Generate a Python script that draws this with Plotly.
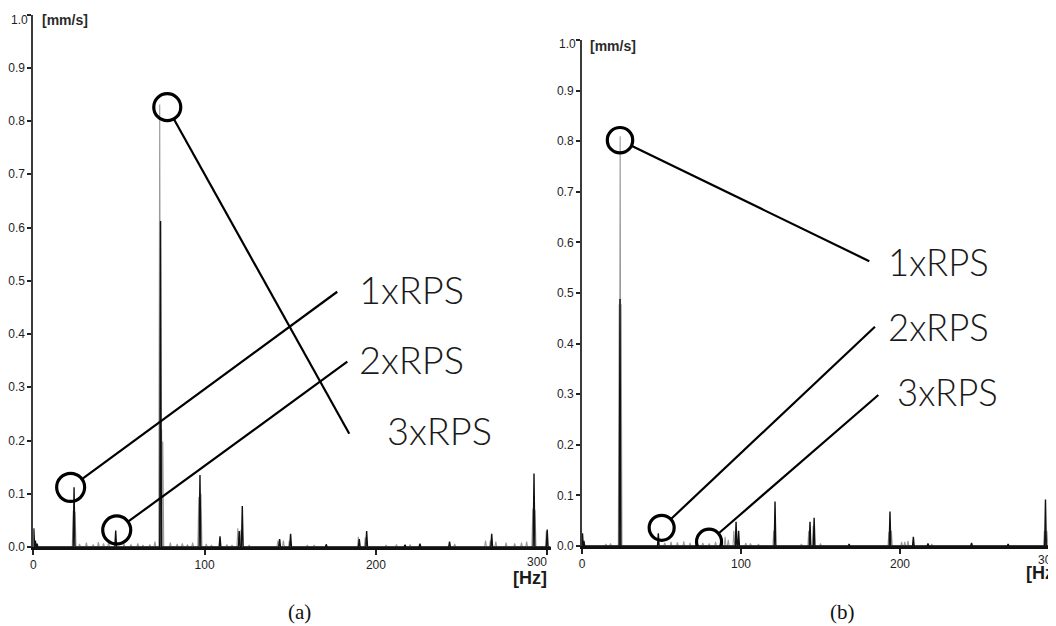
import plotly.graph_objects as go

# ---------------- data ----------------
# chart (a)
a_black_hz = [0.3, 1.2, 2.2, 23.8, 48.1, 74.3, 97.3, 109.0, 120.2, 122.0, 143.8, 150.2,
              171.0, 190.3, 194.6, 217.0, 225.7, 243.0, 267.6, 292.3, 300.0]
a_black_amp = [0.035, 0.012, 0.006, 0.112, 0.031, 0.612, 0.135, 0.020, 0.030, 0.077, 0.015, 0.025,
               0.005, 0.015, 0.030, 0.004, 0.006, 0.010, 0.025, 0.138, 0.033]
a_gray_hz = [23.3, 24.4, 73.8, 74.9, 75.6, 96.6, 97.9, 119.4, 121.2, 142.8, 149.5, 189.8, 193.8,
             266.8, 291.6, 292.9, 299.5,
             27, 31, 35, 38, 41, 44, 53, 57, 61, 64, 68, 71, 80, 84, 87, 90, 93, 101, 104, 113,
             116, 126, 146, 160, 164, 206, 212, 220, 246, 264, 270, 276, 281, 285, 288]
a_gray_amp = [0.068, 0.066, 0.831, 0.221, 0.198, 0.094, 0.100, 0.035, 0.032, 0.012, 0.012, 0.019, 0.018,
              0.012, 0.072, 0.070, 0.030,
              0.006, 0.008, 0.005, 0.009, 0.007, 0.010, 0.006, 0.005, 0.007, 0.004, 0.005, 0.010,
              0.008, 0.006, 0.007, 0.005, 0.008, 0.006, 0.004, 0.005, 0.004, 0.004, 0.012, 0.004,
              0.004, 0.004, 0.005, 0.005, 0.006, 0.012, 0.010, 0.008, 0.007, 0.008, 0.010]

# chart (b)
b_black_hz = [0.3, 1.2, 23.9, 48.0, 96.9, 98.5, 121.4, 143.4, 146.0, 168.0, 193.7, 208.4,
              217.6, 245.0, 268.0, 291.5]
b_black_amp = [0.025, 0.010, 0.488, 0.025, 0.048, 0.030, 0.088, 0.048, 0.056, 0.004, 0.068, 0.018,
               0.005, 0.006, 0.004, 0.092]
b_gray_hz = [23.4, 24.0, 24.6, 95.5, 120.6, 142.6, 145.4, 193.0, 194.6, 205.0, 290.8, 292.4,
             15, 18, 52, 56, 60, 64, 68, 72, 76, 80, 84, 88, 90, 92, 103, 106, 111, 138, 150,
             201, 203, 220]
b_gray_amp = [0.478, 0.810, 0.478, 0.030, 0.030, 0.030, 0.040, 0.028, 0.030, 0.010, 0.030, 0.030,
              0.004, 0.005, 0.006, 0.008, 0.007, 0.009, 0.006, 0.008, 0.006, 0.005, 0.008, 0.015,
              0.018, 0.012, 0.006, 0.005, 0.004, 0.004, 0.005, 0.008, 0.008, 0.004]

x_tick_vals = [0, 100, 200, 300]
y_tick_vals = [0.0, 0.1, 0.2, 0.3, 0.4, 0.5, 0.6, 0.7, 0.8, 0.9, 1.0]
y_tick_text = ["0.0", "0.1", "0.2", "0.3", "0.4", "0.5", "0.6", "0.7", "0.8", "0.9", "1.0"]
callout_text = ["1xRPS", "2xRPS", "3xRPS"]

# ---------------- layout helpers ----------------
# the page body has an 8px margin on every side, so the figure is shrunk to the body box
OFF = 8
W, H = 1056 - 2 * OFF, 626 - OFF


def spikes(hz, amp, hw, xmax):
    pts = sorted(zip(hz, amp))
    xs, ys = [0.0], [0.0]
    for f, a in pts:
        xs += [max(f - hw, 0.0), f, f + hw]
        ys += [0.0, a, 0.0]
    xs.append(xmax)
    ys.append(0.0)
    return xs, ys


def px_x(p):
    return (p - OFF) / W


def px_y(p):
    return 1 - (p - OFF) / H


XA_RANGE = [0, 302]
XB_RANGE = [0, (1056 - OFF - 582) / 1.59]
XA_DOM = [px_x(33.3), px_x(33.3 + 302 * 1.713)]
XB_DOM = [px_x(582), 1.0]
YA_DOM = [px_y(547), px_y(14.5)]
YB_DOM = [px_y(546), px_y(40)]

fig = go.Figure()

for hz, amp, xa, ya in [(a_gray_hz, a_gray_amp, "x", "y"),
                        (b_gray_hz, b_gray_amp, "x2", "y2")]:
    xs, ys = spikes(hz, amp, 0.55, 302)
    fig.add_trace(go.Scatter(x=xs, y=ys, mode="lines", xaxis=xa, yaxis=ya,
                             line=dict(color="#9a9a9a", width=1.1), hoverinfo="skip",
                             showlegend=False))
for hz, amp, xa, ya in [(a_black_hz, a_black_amp, "x", "y"),
                        (b_black_hz, b_black_amp, "x2", "y2")]:
    xs, ys = spikes(hz, amp, 0.5, 302)
    fig.add_trace(go.Scatter(x=xs, y=ys, mode="lines", xaxis=xa, yaxis=ya,
                             line=dict(color="#111111", width=1.4), hoverinfo="skip",
                             showlegend=False))

tick_font = dict(family="Liberation Sans Narrow, Arial Narrow, Liberation Sans, Arial",
                 size=12, color="#1e1e1e")

xcommon = dict(showgrid=False, zeroline=False, showline=True, linecolor="#111111", linewidth=2.5,
               ticks="outside", ticklen=5, tickwidth=1.5, tickcolor="#222222", tickfont=tick_font,
               automargin=False)
ycommon = dict(showgrid=False, zeroline=False, showline=True, linecolor="#3a3a3a", linewidth=2,
               ticks="outside", ticklen=4, tickwidth=1.5, tickcolor="#222222", tickfont=tick_font,
               tickvals=y_tick_vals, range=[0, 1.0], automargin=False)

fig.update_layout(
    width=W, height=H, margin=dict(l=0, r=0, t=0, b=0, pad=0, autoexpand=False),
    paper_bgcolor="white", plot_bgcolor="white", showlegend=False,
    xaxis=dict(xcommon, domain=XA_DOM, range=XA_RANGE, anchor="y",
               tickvals=x_tick_vals, ticktext=["0", "100", "200", ""]),
    yaxis=dict(ycommon, domain=YA_DOM, anchor="x", ticktext=y_tick_text[:-1] + [""]),
    xaxis2=dict(xcommon, domain=XB_DOM, range=XB_RANGE, anchor="y2",
                tickvals=x_tick_vals[:3], ticktext=["0", "100", "200"]),
    yaxis2=dict(ycommon, domain=YB_DOM, anchor="x2", ticktext=y_tick_text[:-1] + [""]),
)

# ---------------- callouts ----------------
# (x-ref, y-ref, circle anchor hz, amp, radius px, line end offset px, label offset px, font size)
callouts = [
    ("x", "y", 21.8, 0.112, 14, (266.6, 195.6), (286, 198.3), 38),
    ("x", "y", 48.7, 0.032, 14, (230.6, 168.3), (240, 171), 38),
    ("x", "y", 78.2, 0.826, 13.5, (182, -326.6), (217.7, -323.3), 38),
    ("x2", "y2", 23.9, 0.802, 12.7, (249.3, -121), (266, -121.7), 36.5),
    ("x2", "y2", 50.1, 0.036, 12.5, (213.3, 201), (224.3, 200.7), 36.5),
    ("x2", "y2", 79.9, 0.0085, 12.5, (169.3, 146.7), (186, 150), 36.5),
]
shapes = []
annotations = []
for i, (xr, yr, fx, fy, r, (ex, ey), (lx, ly), fs) in enumerate(callouts):
    d = (ex ** 2 + ey ** 2) ** 0.5
    ux, uy = ex / d, ey / d
    shapes.append(dict(type="circle", xref=xr, yref=yr, xsizemode="pixel", ysizemode="pixel",
                       xanchor=fx, yanchor=fy, x0=-r, x1=r, y0=-r, y1=r,
                       line=dict(color="#000000", width=3.2)))
    shapes.append(dict(type="line", xref=xr, yref=yr, xsizemode="pixel", ysizemode="pixel",
                       xanchor=fx, yanchor=fy, x0=r * ux, y0=r * uy, x1=ex, y1=ey,
                       line=dict(color="#000000", width=2.2)))
    annotations.append(dict(text=callout_text[i % 3], xref=xr, yref=yr, x=fx, y=fy,
                            xshift=lx, yshift=ly, showarrow=False, xanchor="left", yanchor="middle",
                            font=dict(family="Lato, Open Sans, sans-serif", size=fs, color="#1a1a1a",
                                      weight=300)))

unit_font = dict(family="Liberation Sans, Arial", size=14, color="#2b2b2b", weight="bold")
hz_font = dict(family="Liberation Sans, Arial", size=18, color="#1a1a1a", weight="bold")
cap_font = dict(family="Liberation Serif, Times New Roman, serif", size=21, color="#111111")

annotations += [
    dict(text="[mm/s]", xref="paper", yref="paper", x=px_x(40), y=px_y(20), xanchor="left",
         yanchor="middle", showarrow=False, font=unit_font),
    dict(text="[mm/s]", xref="paper", yref="paper", x=px_x(588), y=px_y(46), xanchor="left",
         yanchor="middle", showarrow=False, font=unit_font),
    dict(text="[Hz]", xref="paper", yref="paper", x=px_x(549), y=px_y(578), xanchor="right",
         yanchor="middle", showarrow=False, font=hz_font),
    dict(text="[Hz]", xref="paper", yref="paper", x=px_x(1062), y=px_y(573), xanchor="right",
         yanchor="middle", showarrow=False, font=hz_font),
    dict(text="(a)", xref="paper", yref="paper", x=px_x(299), y=px_y(612), xanchor="center",
         yanchor="middle", showarrow=False, font=cap_font),
    dict(text="(b)", xref="paper", yref="paper", x=px_x(842), y=px_y(612), xanchor="center",
         yanchor="middle", showarrow=False, font=cap_font),
    # "1.0" labels sit a little below their tick in the reference
    dict(text="1.0", xref="paper", yref="paper", x=px_x(29.5), y=px_y(20), xanchor="right",
         yanchor="middle", showarrow=False, font=tick_font),
    dict(text="1.0", xref="paper", yref="paper", x=px_x(577.5), y=px_y(44), xanchor="right",
         yanchor="middle", showarrow=False, font=tick_font),
    # right-aligned "300" tick labels
    dict(text="300", xref="x", yref="paper", x=300, y=px_y(562), xanchor="right",
         yanchor="middle", xshift=2, showarrow=False, font=tick_font),
]
xb300 = XB_DOM[0] + (300 - XB_RANGE[0]) / (XB_RANGE[1] - XB_RANGE[0]) * (XB_DOM[1] - XB_DOM[0])
annotations.append(dict(text="300", xref="paper", yref="paper", x=xb300, y=px_y(560),
                        xanchor="right", yanchor="middle", xshift=1, showarrow=False, font=tick_font))

fig.update_layout(shapes=shapes, annotations=annotations)
fig.write_html("out.html")
